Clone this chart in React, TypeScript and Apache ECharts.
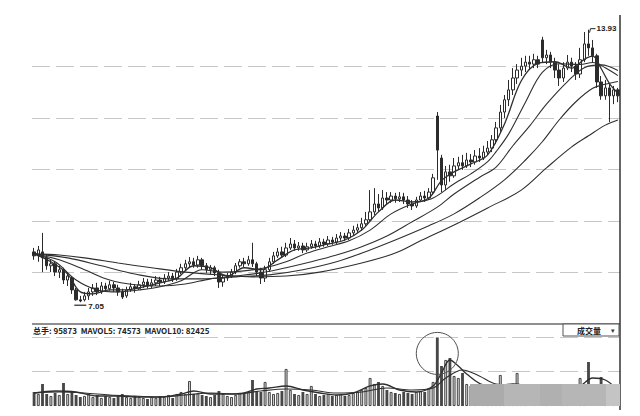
import { useEffect, useRef } from "react";
import * as echarts from "echarts";

// Daily bars, each [open, close, low, high]
const candles: number[][] = [
  [8.32, 8.22, 8.12, 8.42], [8.22, 8.37, 8.07, 8.47], [8.32, 8.17, 7.81, 8.80], [8.17, 7.97, 7.87, 8.24], [7.97, 8.02, 7.81, 8.12],
  [8.02, 7.81, 7.71, 8.07], [7.81, 7.87, 7.66, 7.97], [7.87, 7.61, 7.51, 7.92], [7.61, 7.71, 7.46, 7.81], [7.66, 7.36, 7.26, 7.71],
  [7.36, 7.11, 7.09, 7.41], [7.11, 7.08, 7.05, 7.21], [7.11, 7.21, 7.07, 7.31], [7.21, 7.31, 7.11, 7.41], [7.31, 7.41, 7.21, 7.51],
  [7.41, 7.31, 7.23, 7.54], [7.31, 7.46, 7.26, 7.56], [7.46, 7.39, 7.31, 7.54], [7.39, 7.49, 7.34, 7.59], [7.49, 7.41, 7.31, 7.56],
  [7.41, 7.31, 7.21, 7.49], [7.31, 7.18, 7.13, 7.39], [7.21, 7.36, 7.16, 7.44], [7.36, 7.44, 7.31, 7.54], [7.44, 7.39, 7.29, 7.51],
  [7.39, 7.49, 7.36, 7.59], [7.49, 7.56, 7.41, 7.66], [7.56, 7.46, 7.39, 7.64], [7.46, 7.54, 7.41, 7.64], [7.54, 7.61, 7.46, 7.71],
  [7.61, 7.56, 7.46, 7.69], [7.56, 7.66, 7.51, 7.76], [7.66, 7.71, 7.59, 7.81], [7.71, 7.64, 7.56, 7.79], [7.64, 7.81, 7.59, 7.89],
  [7.81, 7.92, 7.76, 8.02], [7.92, 8.02, 7.84, 8.12], [8.02, 8.07, 7.94, 8.19], [8.07, 7.99, 7.92, 8.17], [7.99, 8.12, 7.92, 8.22],
  [8.12, 7.97, 7.87, 8.17], [7.97, 7.87, 7.79, 8.04], [7.87, 7.92, 7.76, 7.99], [7.92, 7.79, 7.71, 7.97], [7.79, 7.56, 7.41, 7.87],
  [7.56, 7.66, 7.44, 7.74], [7.66, 7.71, 7.59, 7.79], [7.71, 7.81, 7.66, 7.89], [7.81, 7.97, 7.76, 8.04], [7.97, 8.07, 7.92, 8.14],
  [8.07, 8.02, 7.94, 8.17], [8.02, 8.12, 7.97, 8.22], [8.12, 8.02, 7.94, 8.55], [8.02, 7.81, 7.71, 8.07], [7.81, 7.66, 7.51, 7.92],
  [7.66, 7.87, 7.56, 7.97], [7.87, 8.07, 7.81, 8.17], [8.07, 8.22, 8.02, 8.32], [8.22, 8.32, 8.17, 8.42], [8.32, 8.24, 8.17, 8.45],
  [8.24, 8.42, 8.19, 8.55], [8.42, 8.52, 8.37, 8.67], [8.52, 8.42, 8.35, 8.62], [8.42, 8.47, 8.35, 8.57], [8.47, 8.37, 8.29, 8.55],
  [8.37, 8.45, 8.32, 8.55], [8.45, 8.52, 8.40, 8.62], [8.52, 8.47, 8.40, 8.60], [8.47, 8.57, 8.42, 8.67], [8.57, 8.52, 8.45, 8.65],
  [8.52, 8.62, 8.47, 8.72], [8.62, 8.57, 8.50, 8.70], [8.57, 8.67, 8.52, 8.77], [8.67, 8.72, 8.60, 8.82], [8.72, 8.67, 8.60, 8.80],
  [8.67, 8.80, 8.62, 8.90], [8.80, 8.87, 8.72, 8.98], [8.87, 8.93, 8.80, 9.03], [8.93, 9.03, 8.85, 9.18], [9.03, 9.13, 8.98, 9.33],
  [9.13, 9.33, 9.08, 9.88], [9.33, 9.53, 9.25, 9.93], [9.53, 9.43, 9.33, 9.78], [9.43, 9.68, 9.38, 9.88], [9.68, 9.63, 9.51, 9.83],
  [9.63, 9.73, 9.56, 9.83], [9.73, 9.66, 9.56, 9.81], [9.66, 9.71, 9.58, 9.83], [9.71, 9.63, 9.53, 9.81], [9.63, 9.53, 9.43, 9.73],
  [9.53, 9.48, 9.38, 9.63], [9.48, 9.63, 9.43, 9.71], [9.63, 9.73, 9.58, 9.83], [9.73, 9.68, 9.58, 9.86], [9.68, 9.83, 9.63, 9.93],
  [9.83, 10.19, 9.76, 10.29], [11.75, 10.89, 10.14, 11.85], [10.69, 10.01, 9.83, 10.77], [10.01, 10.34, 9.88, 10.49], [10.34, 10.24, 10.09, 10.52],
  [10.24, 10.49, 10.19, 10.69], [10.49, 10.57, 10.39, 10.72], [10.57, 10.49, 10.39, 10.77], [10.49, 10.64, 10.44, 10.82], [10.64, 10.59, 10.46, 10.79],
  [10.59, 10.74, 10.52, 10.89], [10.74, 10.69, 10.59, 10.94], [10.69, 10.84, 10.64, 11.00], [10.84, 10.94, 10.77, 11.12], [10.94, 11.15, 10.84, 11.27],
  [11.15, 11.45, 11.05, 11.60], [11.45, 11.85, 11.35, 12.03], [11.85, 12.16, 11.70, 12.28], [12.16, 12.41, 12.00, 12.66], [12.41, 12.71, 12.28, 12.96],
  [12.71, 12.91, 12.56, 13.06], [12.91, 13.01, 12.76, 13.22], [13.01, 13.11, 12.86, 13.27], [13.11, 13.06, 12.91, 13.27], [13.06, 13.17, 12.96, 13.32],
  [13.17, 13.06, 12.96, 13.27], [13.67, 13.22, 13.11, 13.75], [13.22, 13.29, 13.06, 13.42], [13.29, 13.11, 12.96, 13.37], [13.11, 12.91, 12.71, 13.22],
  [12.91, 12.71, 12.51, 13.06], [12.71, 12.96, 12.61, 13.11], [12.96, 13.11, 12.91, 13.29], [13.11, 13.01, 12.86, 13.22], [13.01, 12.81, 12.66, 13.11],
  [12.81, 13.17, 12.71, 13.47], [13.17, 13.57, 13.11, 13.87], [13.57, 13.47, 13.27, 13.93], [13.47, 13.27, 13.11, 13.67], [13.27, 12.61, 12.46, 13.32],
  [12.61, 12.26, 12.16, 12.76], [12.26, 12.46, 12.16, 12.66], [12.46, 12.26, 11.60, 12.56], [12.26, 12.41, 12.05, 12.51], [12.41, 12.26, 12.10, 12.46],
];

// Daily volume (lots)
const volumes: number[] = [
  64900, 55700, 102000, 55600, 46400, 60300, 51000, 106700, 55700, 64900,
  51000, 41700, 46400, 55700, 41800, 51000, 37100, 46300, 41700, 37100,
  46400, 55600, 41700, 37100, 46400, 41800, 37100, 32500, 41700, 37200,
  46400, 41700, 51000, 37100, 55700, 64900, 55600, 116000, 55700, 60300,
  51000, 46400, 41700, 51100, 69600, 55700, 46400, 41700, 51000, 60300,
  55700, 64900, 120600, 69600, 64900, 111300, 64900, 55700, 60300, 69600,
  171600, 74200, 55700, 51000, 64900, 55700, 92800, 55700, 46400, 51000,
  55700, 46400, 51000, 55700, 46400, 51000, 60300, 64900, 74200, 83500,
  129900, 102000, 111300, 92800, 74200, 64900, 60300, 55700, 64900, 60300,
  55700, 64900, 69600, 64900, 83500, 111300, 318000, 185500, 213400, 222600,
  139100, 129900, 153100, 102000, 92800, 83500, 74200, 83500, 78800, 88100,
  97400, 143800, 92800, 88100, 97400, 153100, 92800, 83500, 74200, 78800,
  83500, 97400, 78800, 69600, 74200, 83500, 69600, 64900, 74200, 83500,
  129900, 92800, 204100, 92800, 88100, 134500, 92800, 83500, 74200, 95873,
];

// Moving averages of the close, sampled as [day index, price]
const ma5: number[][] = [
  [0, 8.27], [4, 8.07], [8, 7.76], [11, 7.31], [14, 7.26], [18, 7.36], [22, 7.36], [26, 7.44], [30, 7.54], [34, 7.66],
  [38, 7.97], [42, 7.92], [46, 7.71], [50, 7.92], [54, 7.87], [58, 8.12], [62, 8.37], [66, 8.42], [70, 8.52], [74, 8.62],
  [78, 8.87], [82, 9.33], [86, 9.63], [90, 9.58], [94, 9.68], [97, 10.12], [100, 10.34], [104, 10.54], [108, 10.77], [112, 11.55],
  [116, 12.64], [120, 13.08], [124, 13.12], [128, 12.96], [131, 13.18], [133, 13.26], [135, 12.95], [137, 12.57], [139, 12.33],
];
const ma10: number[][] = [
  [0, 8.27], [5, 8.07], [10, 7.61], [15, 7.36], [20, 7.31], [25, 7.36], [30, 7.44], [35, 7.59], [40, 7.87], [45, 7.81],
  [50, 7.84], [55, 7.92], [60, 8.07], [65, 8.29], [70, 8.45], [75, 8.60], [80, 8.87], [85, 9.28], [90, 9.53], [95, 9.68],
  [100, 10.04], [104, 10.29], [108, 10.60], [110, 10.85], [113, 11.30], [117, 12.10], [121, 12.85], [125, 13.07], [130, 13.05],
  [133, 13.10], [136, 12.97], [139, 12.77],
];
const ma20: number[][] = [
  [0, 8.27], [6, 8.12], [12, 7.87], [18, 7.61], [24, 7.49], [30, 7.46], [36, 7.51], [42, 7.64], [48, 7.71], [54, 7.79],
  [60, 7.92], [66, 8.07], [72, 8.24], [78, 8.45], [84, 8.72], [90, 9.08], [96, 9.45], [100, 9.78], [106, 10.20], [110, 10.46],
  [114, 11.00], [118, 11.50], [122, 12.05], [127, 12.62], [131, 12.97], [135, 13.04], [139, 12.90],
];
const ma30: number[][] = [
  [0, 8.27], [8, 8.17], [16, 7.97], [24, 7.76], [32, 7.64], [40, 7.64], [48, 7.69], [56, 7.74], [64, 7.87], [72, 8.07],
  [80, 8.37], [86, 8.62], [94, 8.98], [100, 9.28], [106, 9.68], [112, 10.14], [117, 10.64], [121, 11.10], [125, 11.65],
  [129, 12.11], [133, 12.45], [136, 12.55], [139, 12.62],
];
const ma60: number[][] = [
  [0, 8.27], [6, 8.24], [12, 8.17], [20, 8.04], [28, 7.92], [36, 7.81], [44, 7.74], [52, 7.69], [60, 7.71], [68, 7.81],
  [78, 8.04], [86, 8.29], [92, 8.60], [100, 9.00], [108, 9.43], [116, 9.88], [122, 10.44], [128, 10.97], [132, 11.25],
  [136, 11.52], [139, 11.65],
];

// Volume averages, sampled as [day index, lots]
const mavol5: number[][] = [
  [0, 60300], [5, 69600], [10, 64900], [15, 46400], [20, 46400], [25, 41700], [30, 41700], [35, 55700], [38, 69600], [42, 55700],
  [46, 55700], [50, 60300], [53, 78800], [56, 83500], [60, 92800], [64, 74200], [68, 60300], [72, 51000], [76, 60300], [80, 92800],
  [83, 102000], [87, 74200], [91, 64900], [95, 92800], [97, 153100], [99, 213400], [101, 185500], [103, 148400], [107, 97400],
  [110, 92800], [114, 102000], [118, 92800], [122, 83500], [126, 74200], [130, 92800], [133, 129900], [136, 120600], [139, 74573],
];
const mavol10: number[][] = [
  [0, 60300], [6, 64900], [12, 60300], [18, 51000], [24, 46400], [30, 41700], [36, 51000], [42, 60300], [48, 55700], [54, 69600],
  [60, 78800], [66, 74200], [72, 60300], [78, 64900], [84, 83500], [90, 74200], [95, 83500], [98, 129900], [102, 167000],
  [106, 139100], [110, 102000], [114, 97400], [120, 92800], [126, 83500], [132, 97400], [136, 92800], [139, 82425],
];

const volLabel = "总手";
const indicatorName = "成交量";

const INK = "#2f2f2f";
const CJK = '"Noto Sans CJK SC", "Liberation Sans", sans-serif';

export default function App() {
  const ref = useRef<HTMLDivElement>(null);

  useEffect(() => {
    const el = ref.current;
    if (!el) return;
    const chart = echarts.init(el, null, { renderer: "svg" });

    const days = candles.map((_, i) => String(i + 1));
    const volData = volumes.map((v, i) => {
      const [o, c] = candles[i];
      return c >= o
        ? { value: v, itemStyle: { color: "#d6d6d6", borderColor: "#333333", borderWidth: 0.9 } }
        : { value: v, itemStyle: { color: "#474747" } };
    });

    const line = (name: string, data: number[][], axis: number, width: number) => ({
      type: "line",
      name,
      data,
      xAxisIndex: axis,
      yAxisIndex: axis,
      smooth: 0.35,
      showSymbol: false,
      symbol: "none",
      silent: true,
      lineStyle: { color: INK, width },
    });

    const dashed = { color: "#c6c6c6", type: [18, 6] as number[], width: 1 };

    chart.setOption({
      animation: false,
      backgroundColor: "#ffffff",
      grid: [
        { left: 32, right: 20, top: 15, height: 309 },
        { left: 32, right: 20, top: 337, height: 69 },
      ],
      xAxis: [0, 1].map((g) => ({
        type: "category",
        gridIndex: g,
        data: days,
        boundaryGap: true,
        axisLine: { show: false },
        axisTick: { show: false },
        axisLabel: { show: false },
        splitLine: { show: false },
      })),
      yAxis: [
        {
          type: "value",
          gridIndex: 0,
          min: 6.5,
          max: 14.3,
          interval: 1.3,
          axisLine: { show: false },
          axisTick: { show: false },
          axisLabel: { show: false },
          splitLine: { show: true, showMinLine: false, showMaxLine: false, lineStyle: dashed },
        },
        {
          type: "value",
          gridIndex: 1,
          min: 0,
          max: 320000,
          interval: 160000,
          axisLine: { show: false },
          axisTick: { show: false },
          axisLabel: { show: false },
          splitLine: { show: true, showMinLine: false, showMaxLine: true, lineStyle: dashed },
        },
      ],
      series: [
        line("MA60", ma60, 0, 1.1),
        line("MA30", ma30, 0, 1.1),
        line("MA20", ma20, 0, 1.1),
        line("MA10", ma10, 0, 1.1),
        line("MA5", ma5, 0, 1.3),
        {
          type: "candlestick",
          name: "K",
          data: candles,
          xAxisIndex: 0,
          yAxisIndex: 0,
          barWidth: "68%",
          silent: true,
          itemStyle: {
            color: "#ffffff",
            color0: "#2b2b2b",
            borderColor: "#2b2b2b",
            borderColor0: "#2b2b2b",
            borderWidth: 1,
          },
        },
        {
          type: "bar",
          name: "VOL",
          data: volData,
          xAxisIndex: 1,
          yAxisIndex: 1,
          barWidth: "68%",
          silent: true,
        },
        line("MAVOL5", mavol5, 1, 1.3),
        line("MAVOL10", mavol10, 1, 1.1),
      ],
    });

    // highest high / lowest low markers
    let hiIdx = 0;
    let loIdx = 0;
    candles.forEach((c, i) => {
      if (c[3] > candles[hiIdx][3]) hiIdx = i;
      if (c[2] < candles[loIdx][2]) loIdx = i;
    });
    const hiVal = candles[hiIdx][3];
    const loVal = candles[loIdx][2];
    const [hx, hy] = chart.convertToPixel({ xAxisIndex: 0, yAxisIndex: 0 }, [hiIdx, hiVal]) as number[];
    const [lx, ly] = chart.convertToPixel({ xAxisIndex: 0, yAxisIndex: 0 }, [loIdx, loVal]) as number[];

    let vIdx = 0;
    volumes.forEach((v, i) => {
      if (v > volumes[vIdx]) vIdx = i;
    });
    const [vx, vy] = chart.convertToPixel({ xAxisIndex: 1, yAxisIndex: 1 }, [vIdx, volumes[vIdx]]) as number[];

    const last = volumes.length - 1;
    const header = `${volLabel}: ${volumes[last]}  MAVOL5: ${mavol5[mavol5.length - 1][1]}  MAVOL10: ${mavol10[mavol10.length - 1][1]}`;

    const markFont = { fontSize: 8, fontWeight: "bold", fontFamily: '"Liberation Sans", sans-serif' };

    chart.setOption({
      graphic: [
        // separator between price and volume panes
        { type: "line", z: 50, shape: { x1: 32, y1: 324, x2: 620, y2: 324 }, style: { stroke: "#6a6a6a", lineWidth: 1.5 } },
        // right frame
        { type: "line", z: 50, shape: { x1: 620, y1: 15, x2: 620, y2: 410 }, style: { stroke: "#333", lineWidth: 1.5 } },
        {
          type: "text",
          z: 50,
          x: 33,
          y: 330,
          style: {
            text: header,
            fill: "#222",
            fontSize: 8,
            fontWeight: "bold",
            fontFamily: CJK,
            textVerticalAlign: "middle",
            verticalAlign: "middle",
          },
        },
        // indicator selector
        { type: "rect", z: 50, shape: { x: 563, y: 324, width: 56, height: 12 }, style: { fill: "#fff", stroke: "#555", lineWidth: 1 } },
        {
          type: "text",
          z: 51,
          x: 589,
          y: 330,
          style: {
            text: indicatorName,
            fill: "#222",
            fontSize: 8,
            fontWeight: "bold",
            fontFamily: CJK,
            textAlign: "center",
            align: "center",
            textVerticalAlign: "middle",
            verticalAlign: "middle",
          },
        },
        {
          type: "text",
          z: 51,
          x: 613,
          y: 330,
          style: { text: "▾", fill: "#333", fontSize: 7, textAlign: "center", align: "center", textVerticalAlign: "middle", verticalAlign: "middle" },
        },
        // grey block over the lower right of the volume pane
        { type: "rect", z: 60, shape: { x: 470, y: 384, width: 150, height: 22 }, style: { fill: "#b6b6b6" } },
        { type: "rect", z: 61, shape: { x: 470, y: 384, width: 34, height: 22 }, style: { fill: "#ababab" } },
        { type: "rect", z: 61, shape: { x: 540, y: 384, width: 22, height: 22 }, style: { fill: "#b0b0b0" } },
        { type: "rect", z: 61, shape: { x: 606, y: 384, width: 14, height: 22 }, style: { fill: "#c4c4c4" } },
        // ring around the heaviest volume day
        { type: "circle", z: 62, shape: { cx: vx, cy: vy + 16, r: 21 }, style: { fill: "none", stroke: "#505050", lineWidth: 1 } },
        // high marker
        {
          type: "polyline",
          z: 62,
          shape: { points: [[hx + 1, hy + 3], [hx + 2, hy - 1], [hx + 7, hy - 1]] },
          style: { stroke: "#222", lineWidth: 1, fill: "none" },
        },
        {
          type: "text",
          z: 62,
          x: hx + 8,
          y: hy - 1,
          style: { text: hiVal.toFixed(2), fill: "#222", ...markFont, textVerticalAlign: "middle", verticalAlign: "middle" },
        },
        // low marker
        {
          type: "polyline",
          z: 62,
          shape: { points: [[lx - 6, ly + 3], [lx + 6, ly + 3]] },
          style: { stroke: "#222", lineWidth: 1.2, fill: "none" },
        },
        {
          type: "text",
          z: 62,
          x: lx + 8,
          y: ly + 4,
          style: { text: loVal.toFixed(2), fill: "#222", ...markFont, textVerticalAlign: "middle", verticalAlign: "middle" },
        },
      ],
    });

    return () => chart.dispose();
  }, []);

  return (
    <div
      ref={ref}
      style={{ position: "fixed", left: 0, top: 0, width: 640, height: 416, background: "#fff" }}
    />
  );
}
